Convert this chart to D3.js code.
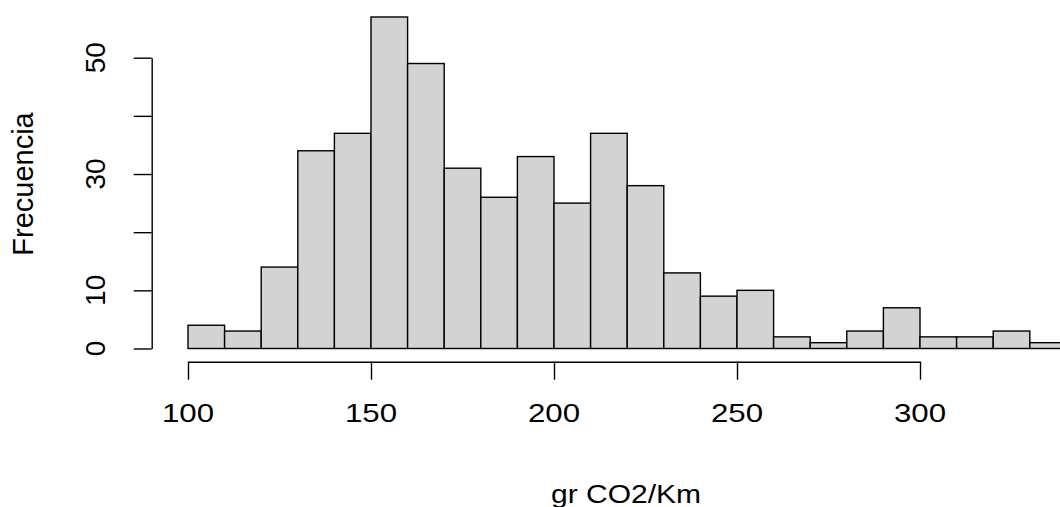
<!DOCTYPE html>
<html>
<head>
<meta charset="utf-8">
<script src="https://cdn.jsdelivr.net/npm/d3@7"></script>
<style>
  body { margin: 0; background: #fff; }
  svg { display: block; }
  text { font-family: "Liberation Sans", Arial, sans-serif; fill: #000; }
</style>
</head>
<body>
<div id="chart"></div>
<script>
// histogram bins (lower edge, upper edge) and counts
var binLower = [100, 110, 120, 130, 140, 150, 160, 170, 180, 190, 200, 210, 220, 230, 240, 250, 260, 270, 280, 290, 300, 310, 320, 330];
var binUpper = [110, 120, 130, 140, 150, 160, 170, 180, 190, 200, 210, 220, 230, 240, 250, 260, 270, 280, 290, 300, 310, 320, 330, 340];
var counts   = [4, 3, 14, 34, 37, 57, 49, 31, 26, 33, 25, 37, 28, 13, 9, 10, 2, 1, 3, 7, 2, 2, 3, 1];

var xTicks = [100, 150, 200, 250, 300];
var yTicks = [0, 10, 20, 30, 40, 50];
var yLabels = [0, 10, 30, 50];   // R drops the ones that would overlap

var xTitle = "gr CO2/Km";
var yTitle = "Frecuencia";

var width = 1060, height = 507;

var svg = d3.select("#chart").append("svg")
    .attr("width", width)
    .attr("height", height);

var x = d3.scaleLinear().domain([100, 300]).range([188, 920]);
var y = d3.scaleLinear().domain([0, 50]).range([348.5, 57.7]);

var data = counts.map(function(c, i) {
  return { lo: binLower[i], hi: binUpper[i], n: c };
});

// bars
svg.append("g").selectAll("rect")
  .data(data)
  .enter().append("rect")
    .attr("x", function(d) { return x(d.lo); })
    .attr("y", function(d) { return y(d.n); })
    .attr("width", function(d) { return x(d.hi) - x(d.lo); })
    .attr("height", function(d) { return y(0) - y(d.n); })
    .style("fill", "#d3d3d3")
    .style("stroke", "#000")
    .style("stroke-width", 1.4);

// x axis
var xAxis = svg.append("g")
    .attr("transform", "translate(0,361.7)")
    .call(d3.axisBottom(x).tickValues(xTicks).tickSize(18).tickSizeOuter(0).tickFormat(""));
xAxis.selectAll("path, line").style("stroke", "#000").style("stroke-width", 1.4);

svg.append("g").selectAll("g")
  .data(xTicks)
  .enter().append("g")
    .attr("transform", function(d) { return "translate(" + x(d) + ",421.5) scale(1.25,1)"; })
  .append("text")
    .attr("text-anchor", "middle")
    .style("font-size", "25px")
    .text(function(d) { return d; });

// y axis
var yAxis = svg.append("g")
    .attr("transform", "translate(151.7,0)")
    .call(d3.axisLeft(y).tickValues(yTicks).tickSize(18).tickSizeOuter(0).tickFormat(""));
yAxis.selectAll("path, line").style("stroke", "#000").style("stroke-width", 1.4);

svg.append("g").selectAll("text")
  .data(yLabels)
  .enter().append("text")
    .attr("transform", function(d) { return "translate(105," + y(d) + ") rotate(-90)"; })
    .attr("text-anchor", "middle")
    .style("font-size", "28px")
    .text(function(d) { return d; });

// titles
svg.append("g")
    .attr("transform", "translate(626,503) scale(1.2,1)")
  .append("text")
    .attr("text-anchor", "middle")
    .style("font-size", "25px")
    .text(xTitle);

svg.append("text")
    .attr("transform", "translate(33,184) rotate(-90)")
    .attr("text-anchor", "middle")
    .style("font-size", "29px")
    .text(yTitle);
</script>
</body>
</html>
